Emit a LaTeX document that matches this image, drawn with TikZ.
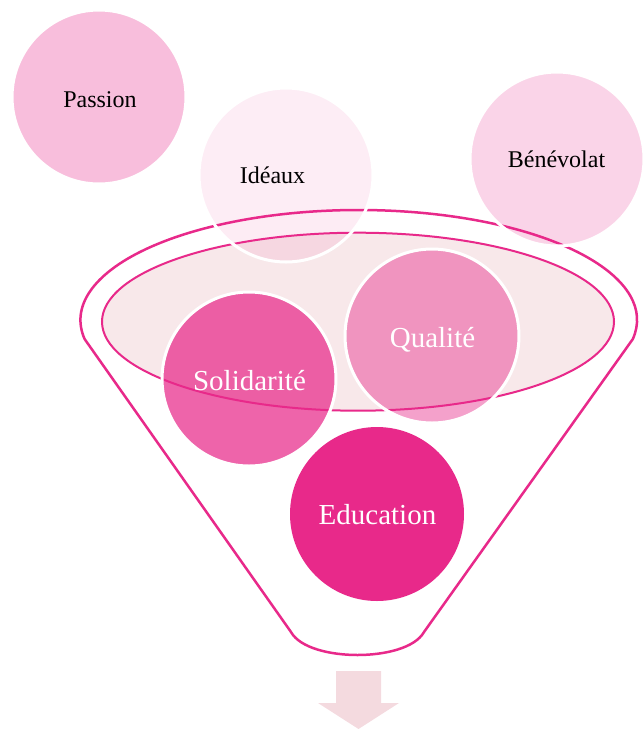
\documentclass[tikz,border=0pt]{standalone}
\usepackage{fontspec}
\setmainfont{Liberation Serif}
\definecolor{funnelc}{HTML}{E8298A}
\definecolor{innerc}{HTML}{F8E8EA}
\definecolor{arrowc}{HTML}{F4DADF}
\begin{document}
\begin{tikzpicture}[x=1pt,y=-1pt,
  bubble/.style={circle, minimum size=174pt, inner sep=0pt, draw=none, fill=funnelc},
  ring/.style={draw=white, line width=3pt},
  funnelline/.style={draw=funnelc, line width=2.5pt, line join=round},
  darktxt/.style={font=\fontsize{24}{28}\selectfont, text=black, anchor=base, inner sep=0pt},
  lighttxt/.style={font=\fontsize{29}{34}\selectfont, text=white, anchor=base, inner sep=0pt}]
\useasboundingbox (0,0) rectangle (643,729);
% funnel body fill
\def\funnelpath{(632.8,339.1) arc[start angle=10, end angle=-190, x radius=278.3, y radius=110]
  -- (291,632) .. controls (300,648) and (330,655) .. (357.5,655)
  .. controls (385,655) and (415,648) .. (424,632) -- cycle}
\path[fill=white] \funnelpath;
\path[fill=innerc] (358,321.7) ellipse[x radius=256, y radius=89];
% bubbles (translucent fills)
\node[bubble, fill opacity=0.3] (passion) at (99,97) {};
\node[bubble, fill opacity=0.085] (ideaux) at (286,175) {};
\node[bubble, fill opacity=0.2] (benevolat) at (557,159) {};
\node[bubble, fill opacity=0.72] (solidarite) at (249,379) {};
\node[bubble, fill opacity=0.44] (qualite) at (432,336) {};
\node[bubble] (education) at (377,514) {};
% funnel outlines
\path[funnelline] \funnelpath;
\draw[funnelc, line width=2pt] (358,321.7) ellipse[x radius=256, y radius=89];
% white rims of the bubbles
\draw[ring] (passion.center) circle[radius=87];
\draw[ring] (ideaux.center) circle[radius=87];
\draw[ring] (benevolat.center) circle[radius=87];
\draw[ring] (solidarite.center) circle[radius=87];
\draw[ring] (qualite.center) circle[radius=87];
% labels
\node[darktxt] (passion-t) at (100,107) {Passion};
\node[darktxt] (ideaux-t) at (272.5,183) {Idéaux};
\node[darktxt] (benevolat-t) at (556.5,167) {Bénévolat};
\node[lighttxt] (solidarite-t) at (249.5,390) {Solidarité};
\node[lighttxt] (qualite-t) at (432.5,347) {Qualité};
\node[lighttxt] (education-t) at (377.5,524) {Education};
% output arrow
\path[fill=arrowc] (336,671) -- (381,671) -- (381,703) -- (399,703) -- (358.5,729)
  -- (318,703) -- (336,703) -- cycle;
\end{tikzpicture}
\end{document}
